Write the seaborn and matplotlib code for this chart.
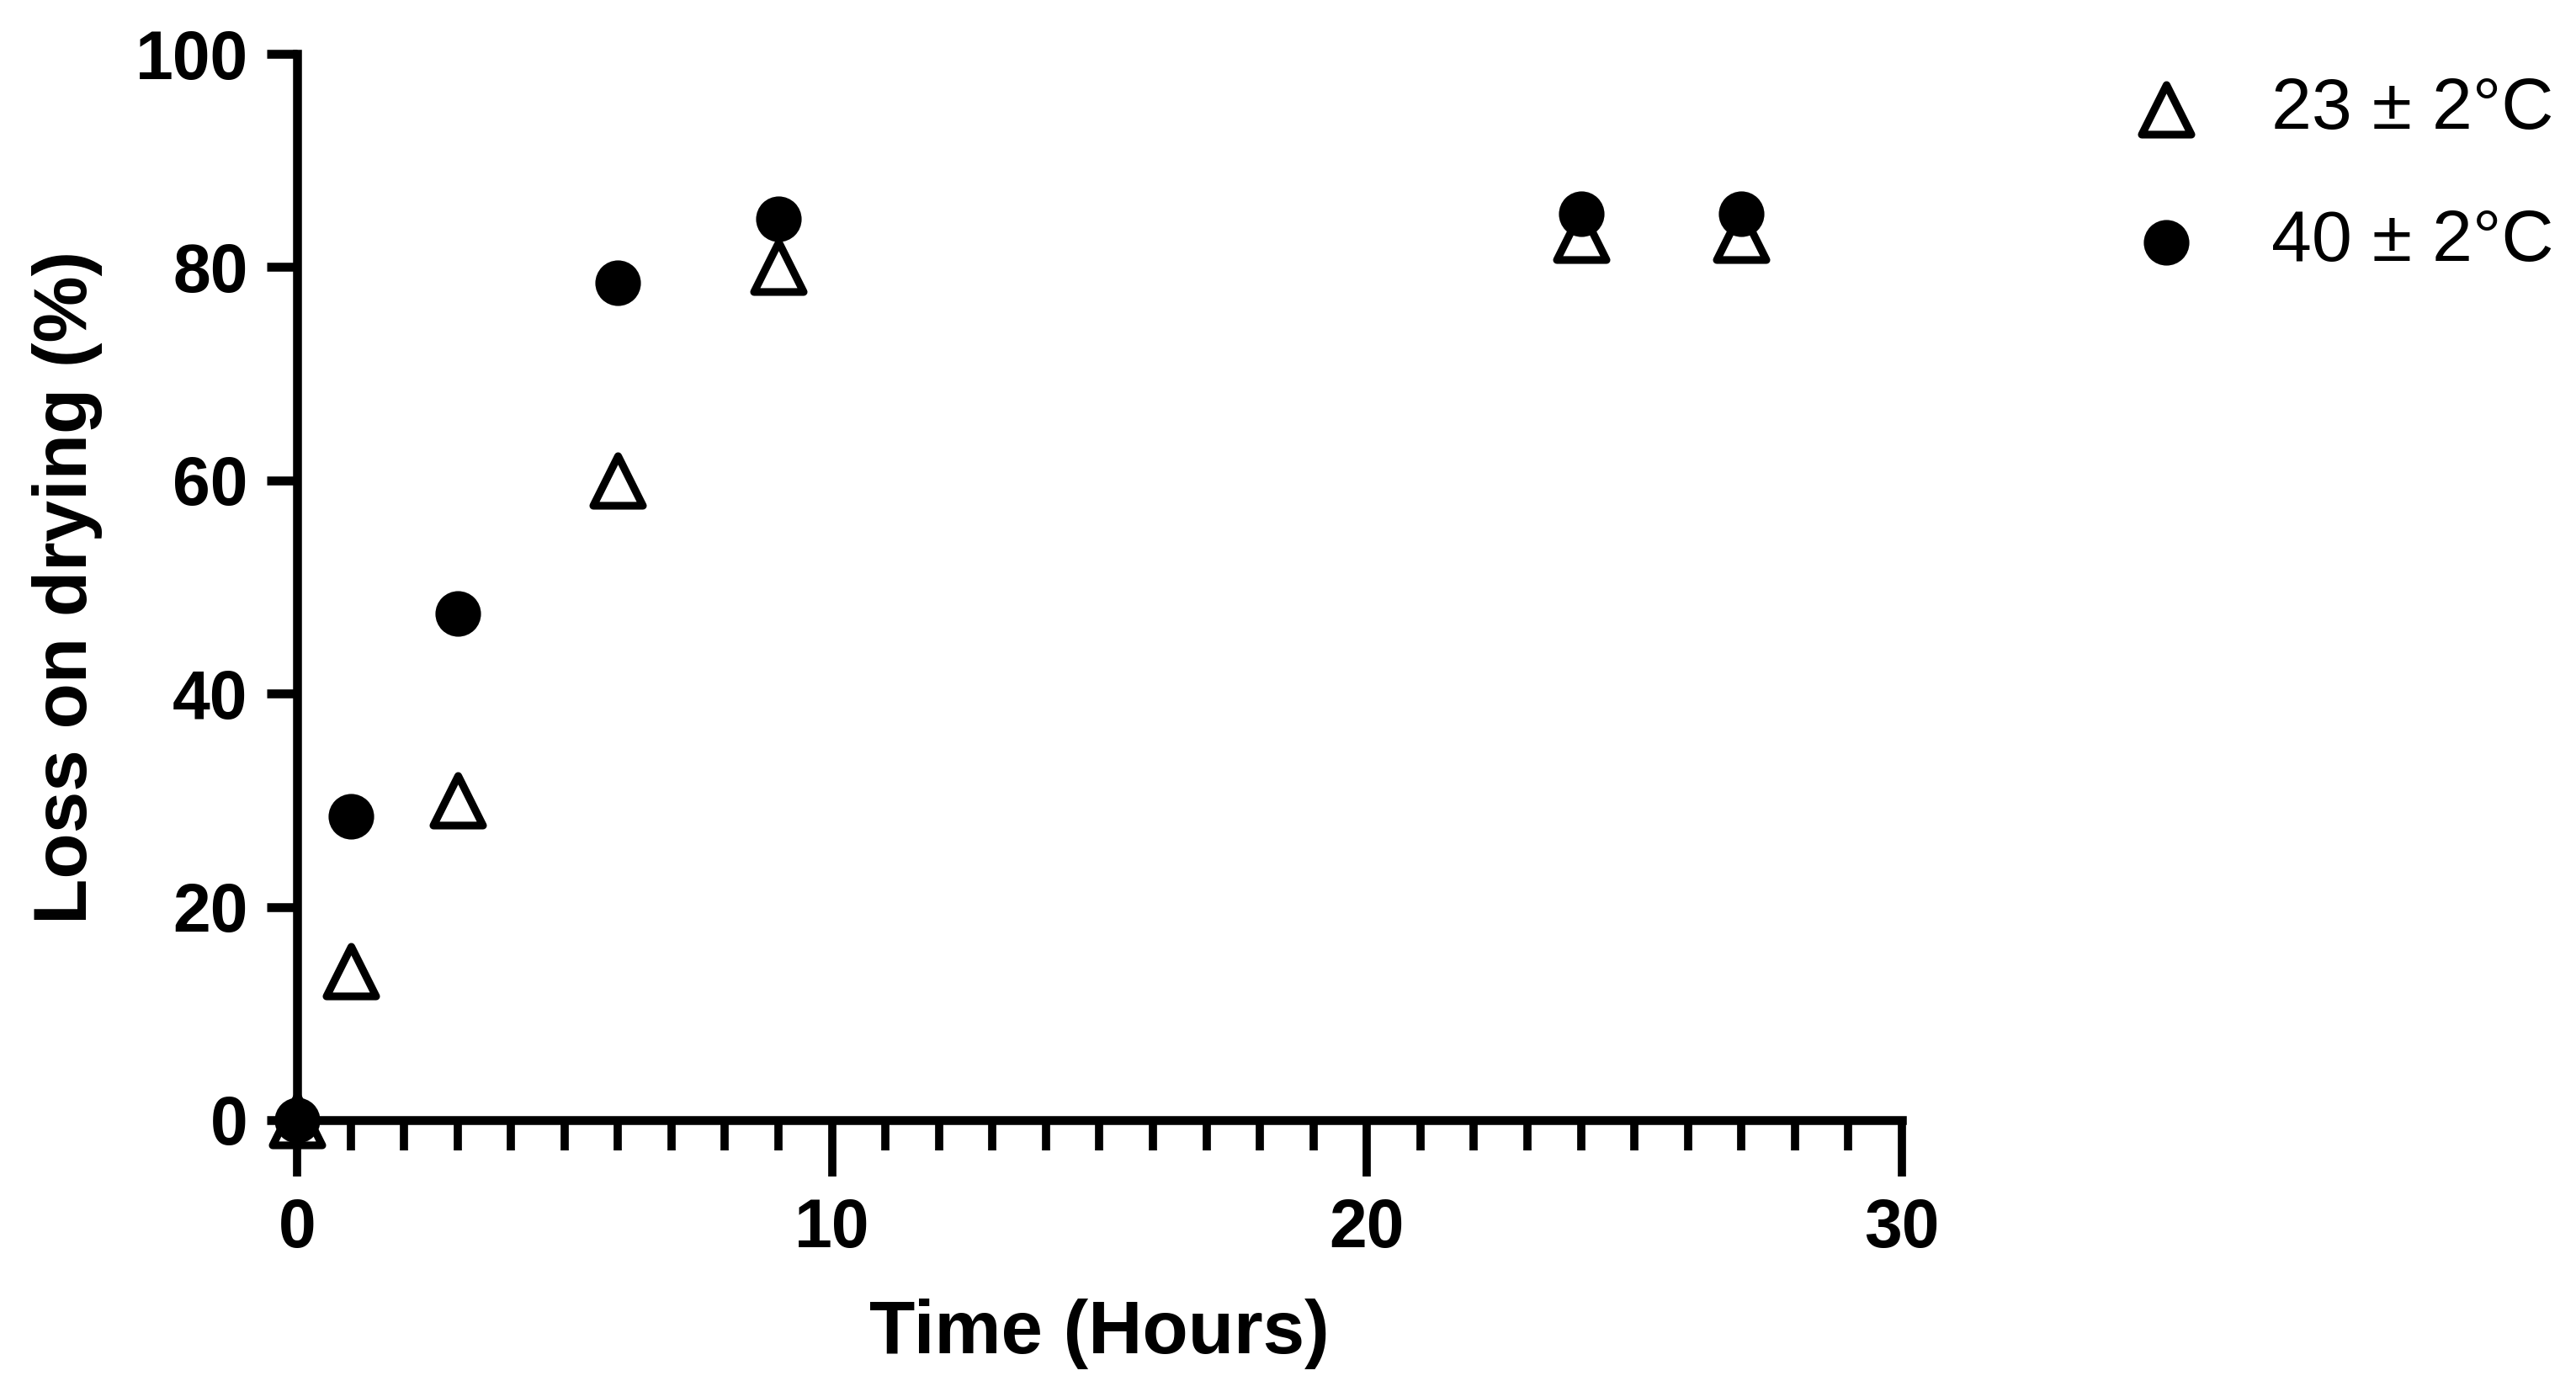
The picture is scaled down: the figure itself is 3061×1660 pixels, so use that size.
import matplotlib
matplotlib.use("Agg")
import matplotlib.pyplot as plt
import seaborn as sns
import pandas as pd
from matplotlib.ticker import MultipleLocator

# time in hours and loss on drying (%)
time_hours = [0, 1, 3, 6, 9, 24, 27]
loss_23c = [0, 14, 30, 60, 80, 83, 83]
loss_40c = [0, 28.5, 47.5, 78.5, 84.5, 85, 85]
labels = ["23 ± 2°C", "40 ± 2°C"]

sns.set_style("ticks")
plt.rcParams["font.family"] = ["Liberation Sans", "DejaVu Sans"]
plt.rcParams["text.color"] = "black"
plt.rcParams["axes.labelcolor"] = "black"
plt.rcParams["xtick.color"] = "black"
plt.rcParams["ytick.color"] = "black"

df_23 = pd.DataFrame({"time": time_hours, "loss": loss_23c})
df_40 = pd.DataFrame({"time": time_hours, "loss": loss_40c})

fig = plt.figure(figsize=(15.305, 8.3), dpi=200)
ax = fig.add_axes([0.1153, 0.1982, 0.623, 0.7632])

sns.scatterplot(data=df_23, x="time", y="loss", ax=ax, marker="^", s=450,
                color="white", edgecolor="black", linewidth=3.3,
                label=labels[0], clip_on=False, zorder=4)
sns.scatterplot(data=df_40, x="time", y="loss", ax=ax, marker="o", s=380,
                color="black", edgecolor="black", linewidth=0,
                label=labels[1], clip_on=False, zorder=5)

ax.set_xlim(0, 30)
ax.set_ylim(0, 100)
ax.xaxis.set_major_locator(MultipleLocator(10))
ax.xaxis.set_minor_locator(MultipleLocator(1))
ax.yaxis.set_major_locator(MultipleLocator(20))

sns.despine(ax=ax)
for side in ["left", "bottom"]:
    ax.spines[side].set_linewidth(3.8)
    ax.spines[side].set_color("black")

ax.tick_params(axis="x", which="major", length=24, width=3.5, pad=9,
               labelsize=29, color="black", labelcolor="black")
ax.tick_params(axis="x", which="minor", length=13, width=3.5, color="black")
ax.tick_params(axis="y", which="major", length=13, width=3.8, pad=8,
               labelsize=29, color="black", labelcolor="black")
for lab in ax.get_xticklabels() + ax.get_yticklabels():
    lab.set_fontweight("bold")

ax.set_xlabel("Time (Hours)", fontsize=32, fontweight="bold", labelpad=16,
              color="black")
ax.set_ylabel("Loss on drying (%)", fontsize=32, fontweight="bold",
              labelpad=14, color="black")

leg = ax.legend(loc="upper left", bbox_to_anchor=(0.8016, 0.966),
                bbox_transform=fig.transFigure, frameon=False, fontsize=31,
                handletextpad=0.45, labelspacing=0.9, borderaxespad=0)
for t in leg.get_texts():
    t.set_color("black")

fig.savefig("out.png", dpi=200, facecolor="white")
